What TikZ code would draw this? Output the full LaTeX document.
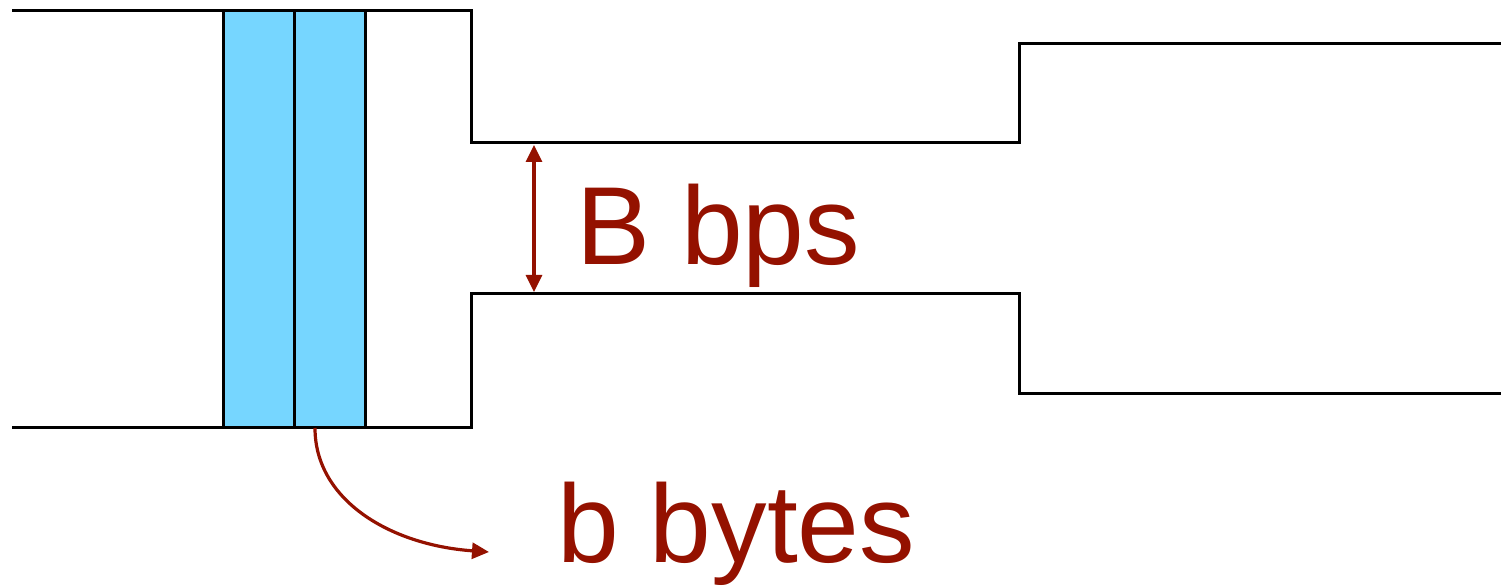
\documentclass[tikz,border=0pt]{standalone}
\usepackage{fontspec}
\setmainfont{Liberation Sans}
\usetikzlibrary{arrows.meta}
\definecolor{pkt}{HTML}{76D6FF}
\definecolor{dred}{HTML}{941100}
\begin{document}
\begin{tikzpicture}[x=0.5pt,y=-0.5pt,
  wall/.style={draw=black,line width=1.5pt,line join=miter},
  packet/.style={draw=black,line width=1.5pt,fill=pkt},
  measure/.style={draw=dred,line width=1.6pt,{Triangle[length=8.5pt,width=8pt]}-{Triangle[length=8.5pt,width=8pt]}},
  pointer/.style={draw=dred,line width=1.6pt,-{Triangle[length=8.5pt,width=8pt]}},
  lbl/.style={text=dred,font=\fontsize{55.5}{60}\selectfont,inner sep=0pt,anchor=base west}]
\useasboundingbox (0,0) rectangle (1501,587);
% two packets in the wide section
\draw[packet] (223,11) rectangle (294,428);
\draw[packet] (294,11) rectangle (365,428);
% pipe outline: wide, narrow bottleneck, medium
\draw[wall] (12,11) -- (471,11) -- (471,143) -- (1019,143) -- (1019,44) -- (1501,44);
\draw[wall] (12,428) -- (471,428) -- (471,294) -- (1019,294) -- (1019,394) -- (1501,394);
% bandwidth marker
\coordinate (mtop) at (534,145);
\coordinate (mbot) at (534,292);
\draw[measure] (mtop) -- (mbot);
\node[lbl] (bw) at (576,265) {B bps};
% packet size pointer
\coordinate (pk) at (315,428);
\coordinate (pe) at (489,552);
\draw[pointer] (pk) .. controls (315,500) and (390,545) .. (pe);
\node[lbl] (sz) at (557,563) {b bytes};
\end{tikzpicture}
\end{document}
